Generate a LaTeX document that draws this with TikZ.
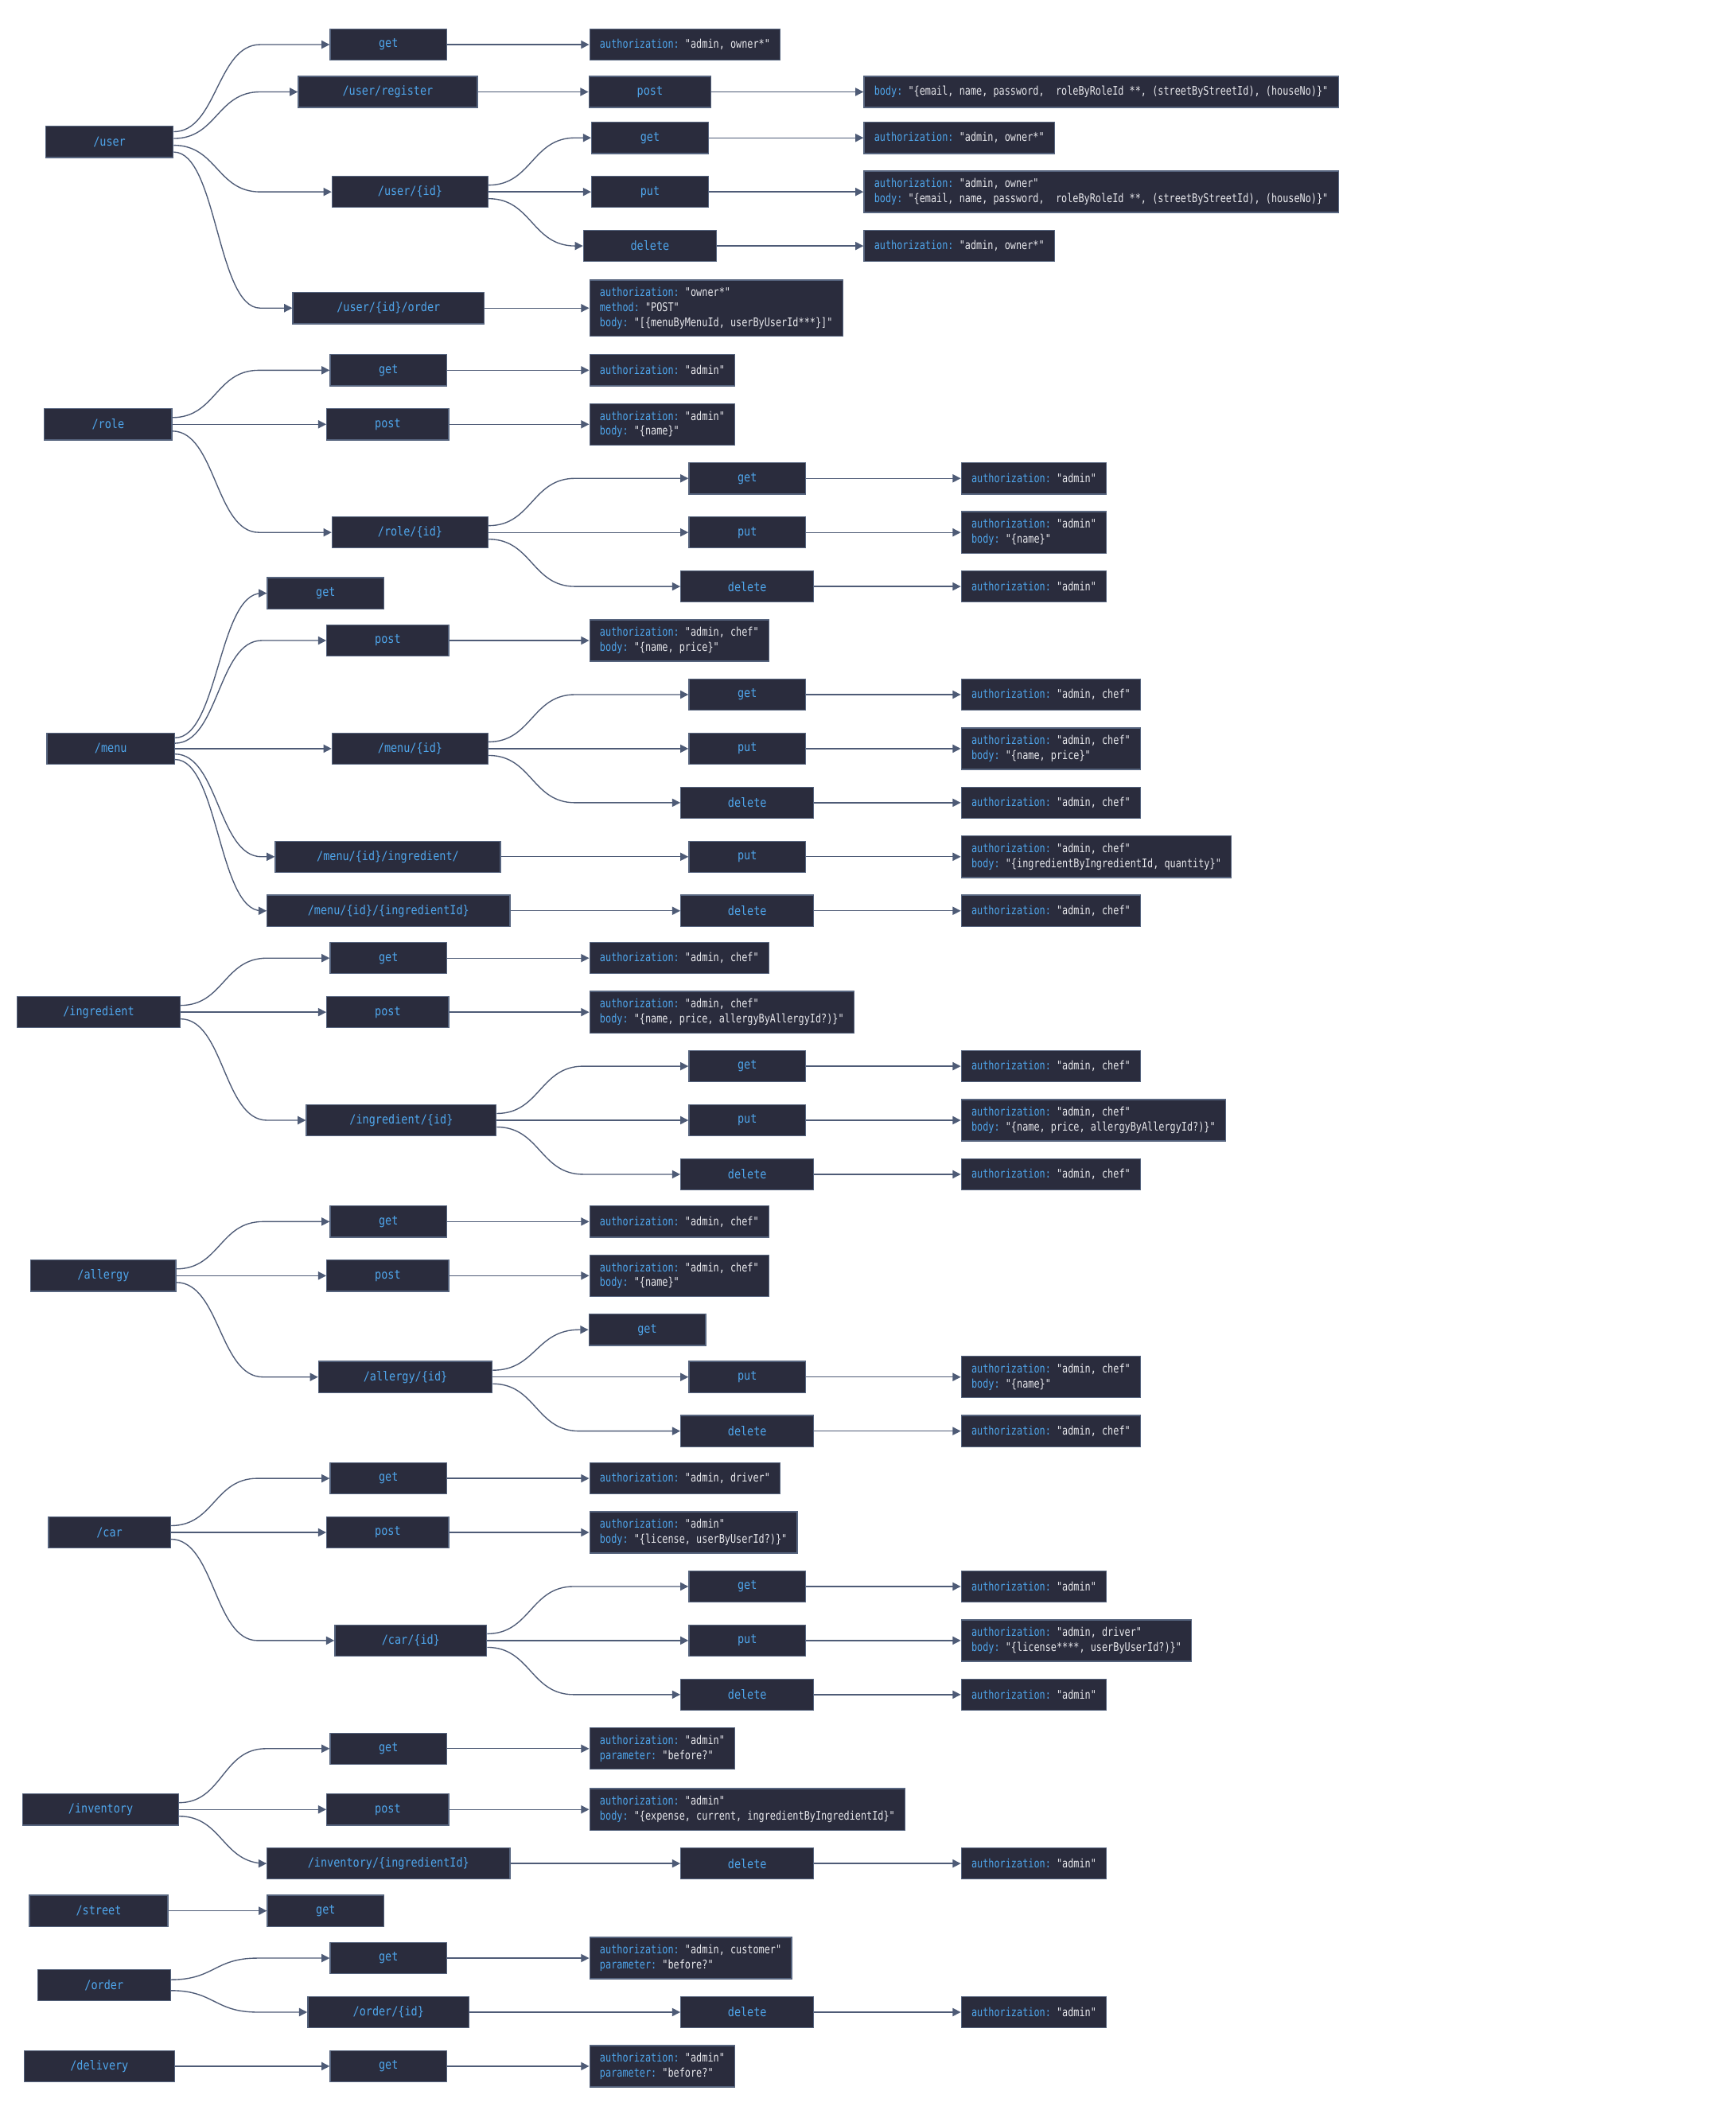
\documentclass[tikz,border=0pt]{standalone}
\usepackage{fontspec}
\newfontfamily\labelfont[FakeStretch=0.86]{DejaVu Sans Mono}
\newfontfamily\infofont[FakeStretch=0.79]{DejaVu Sans Mono}
\usetikzlibrary{arrows.meta,calc}

\definecolor{boxfill}{HTML}{2A2C3D}
\definecolor{boxline}{HTML}{56647E}
\definecolor{keyblue}{HTML}{4FA6EC}
\definecolor{valwhite}{HTML}{E8E8EC}
\definecolor{edgeline}{HTML}{4E5B76}
\newcommand{\fld}[2]{\textcolor{keyblue}{#1:}~#2}

\begin{document}
\begin{tikzpicture}[
    x = 0.9966pt, y = -0.9966pt, % pixel grid, y runs downwards
    > = {Triangle[length=6pt, width=6pt]}, % arrow head style
    box/.style = {draw=boxline, fill=boxfill, text=keyblue, line width=0.8pt,
        minimum height=23, inner sep=0pt, font=\labelfont\fontsize{9.2}{11}\selectfont},
    info/.style = {draw=boxline, fill=boxfill, text=valwhite, line width=0.8pt, anchor=west,
        minimum height=23, inner xsep=7.5pt, inner ysep=5.5pt, align=left,
        font=\infofont\fontsize{8.8}{11}\selectfont},
    edge/.style = {->, draw=edgeline, line width=0.8pt},
    tree/.style = {to path={.. controls ($(\tikztostart)+(#1/2,0)$)
        and ($(\tikztostart |- \tikztotarget)+(#1/2,0)$)
        .. ($(\tikztostart |- \tikztotarget)+(#1,0)$) -- (\tikztotarget) \tikztonodes}},
    tree/.default = 64
]
\useasboundingbox (0pt,0pt) rectangle (1280pt,-1562pt);

% /user
\node[box, minimum width=94] (user) at (81,105) {/user};
\node[box, minimum width=86] (user-get) at (287.5,33) {get};
\node[info] (user-get-a) at (436,33) {\fld{authorization}{"admin, owner*"}};
\node[box, minimum width=132] (user-reg) at (287,68) {/user/register};
\node[box, minimum width=90] (user-reg-post) at (481,68) {post};
\node[info] (user-reg-post-a) at (639,68) {\fld{body}{"\{email, name, password,~ roleByRoleId **, (streetByStreetId), (houseNo)\}"}};
\node[box, minimum width=115] (user-id) at (303.5,142) {/user/\{id\}};
\node[box, minimum width=86] (user-id-get) at (481,102) {get};
\node[info] (user-id-get-a) at (639,102) {\fld{authorization}{"admin, owner*"}};
\node[box, minimum width=86] (user-id-put) at (481,142) {put};
\node[info] (user-id-put-a) at (639,142) {\fld{authorization}{"admin, owner"}\\
    \fld{body}{"\{email, name, password,~ roleByRoleId **, (streetByStreetId), (houseNo)\}"}};
\node[box, minimum width=98] (user-id-del) at (481,182) {delete};
\node[info] (user-id-del-a) at (639,182) {\fld{authorization}{"admin, owner*"}};
\node[box, minimum width=141] (user-ord) at (287.5,228) {/user/\{id\}/order};
\node[info] (user-ord-a) at (436,228) {\fld{authorization}{"owner*"}\\
    \fld{method}{"POST"}\\ \fld{body}{"[\{menuByMenuId, userByUserId***\}]"}};

\draw[edge] ([yshift=7.5]user.east) to[tree] (user-get);
\draw[edge] ([yshift=2.5]user.east) to[tree] (user-reg);
\draw[edge] ([yshift=-2.5]user.east) to[tree] (user-id);
\draw[edge] ([yshift=-7.5]user.east) to[tree] (user-ord);
\draw[edge] (user-get) -- (user-get-a);
\draw[edge] (user-reg) -- (user-reg-post);
\draw[edge] (user-reg-post) -- (user-reg-post-a);
\draw[edge] ([yshift=5]user-id.east) to[tree] (user-id-get);
\draw[edge] (user-id) -- (user-id-put);
\draw[edge] ([yshift=-5]user-id.east) to[tree] (user-id-del);
\draw[edge] (user-id-get) -- (user-id-get-a);
\draw[edge] (user-id-put) -- (user-id-put-a);
\draw[edge] (user-id-del) -- (user-id-del-a);
\draw[edge] (user-ord) -- (user-ord-a);

% /role
\node[box, minimum width=94] (role) at (80,314) {/role};
\node[box, minimum width=86] (role-get) at (287.5,274) {get};
\node[info] (role-get-a) at (436,274) {\fld{authorization}{"admin"}};
\node[box, minimum width=90] (role-post) at (287,314) {post};
\node[info] (role-post-a) at (436,314) {\fld{authorization}{"admin"}\\ \fld{body}{"\{name\}"}};
\node[box, minimum width=115] (role-id) at (303.5,394) {/role/\{id\}};
\node[box, minimum width=86] (role-id-get) at (553,354) {get};
\node[info] (role-id-get-a) at (711,354) {\fld{authorization}{"admin"}};
\node[box, minimum width=86] (role-id-put) at (553,394) {put};
\node[info] (role-id-put-a) at (711,394) {\fld{authorization}{"admin"}\\ \fld{body}{"\{name\}"}};
\node[box, minimum width=98] (role-id-del) at (553,434) {delete};
\node[info] (role-id-del-a) at (711,434) {\fld{authorization}{"admin"}};

\draw[edge] ([yshift=5]role.east) to[tree] (role-get);
\draw[edge] (role) -- (role-post);
\draw[edge] ([yshift=-5]role.east) to[tree] (role-id);
\draw[edge] (role-get) -- (role-get-a);
\draw[edge] (role-post) -- (role-post-a);
\draw[edge] ([yshift=5]role-id.east) to[tree] (role-id-get);
\draw[edge] (role-id) -- (role-id-put);
\draw[edge] ([yshift=-5]role-id.east) to[tree] (role-id-del);
\draw[edge] (role-id-get) -- (role-id-get-a);
\draw[edge] (role-id-put) -- (role-id-put-a);
\draw[edge] (role-id-del) -- (role-id-del-a);

% /menu
\node[box, minimum width=94] (menu) at (82,554) {/menu};
\node[box, minimum width=86] (menu-get) at (241,439) {get};
\node[box, minimum width=90] (menu-post) at (287,474) {post};
\node[info] (menu-post-a) at (436,474) {\fld{authorization}{"admin, chef"}\\ \fld{body}{"\{name, price\}"}};
\node[box, minimum width=115] (menu-id) at (303.5,554) {/menu/\{id\}};
\node[box, minimum width=86] (menu-id-get) at (553,514) {get};
\node[info] (menu-id-get-a) at (711,514) {\fld{authorization}{"admin, chef"}};
\node[box, minimum width=86] (menu-id-put) at (553,554) {put};
\node[info] (menu-id-put-a) at (711,554) {\fld{authorization}{"admin, chef"}\\ \fld{body}{"\{name, price\}"}};
\node[box, minimum width=98] (menu-id-del) at (553,594) {delete};
\node[info] (menu-id-del-a) at (711,594) {\fld{authorization}{"admin, chef"}};
\node[box, minimum width=166] (menu-ingr) at (287,634) {/menu/\{id\}/ingredient/};
\node[box, minimum width=86] (menu-ingr-put) at (553,634) {put};
\node[info] (menu-ingr-put-a) at (711,634) {\fld{authorization}{"admin, chef"}\\
    \fld{body}{"\{ingredientByIngredientId, quantity\}"}};
\node[box, minimum width=179] (menu-ingrid) at (287.5,674) {/menu/\{id\}/\{ingredientId\}};
\node[box, minimum width=98] (menu-ingrid-del) at (553,674) {delete};
\node[info] (menu-ingrid-del-a) at (711,674) {\fld{authorization}{"admin, chef"}};

\draw[edge] ([yshift=8]menu.east) to[tree] (menu-get);
\draw[edge] ([yshift=4]menu.east) to[tree] (menu-post);
\draw[edge] (menu) -- (menu-id);
\draw[edge] ([yshift=-4]menu.east) to[tree] (menu-ingr);
\draw[edge] ([yshift=-8]menu.east) to[tree] (menu-ingrid);
\draw[edge] (menu-post) -- (menu-post-a);
\draw[edge] ([yshift=5]menu-id.east) to[tree] (menu-id-get);
\draw[edge] (menu-id) -- (menu-id-put);
\draw[edge] ([yshift=-5]menu-id.east) to[tree] (menu-id-del);
\draw[edge] (menu-id-get) -- (menu-id-get-a);
\draw[edge] (menu-id-put) -- (menu-id-put-a);
\draw[edge] (menu-id-del) -- (menu-id-del-a);
\draw[edge] (menu-ingr) -- (menu-ingr-put);
\draw[edge] (menu-ingr-put) -- (menu-ingr-put-a);
\draw[edge] (menu-ingrid) -- (menu-ingrid-del);
\draw[edge] (menu-ingrid-del) -- (menu-ingrid-del-a);

% /ingredient
\node[box, minimum width=120] (ingr) at (73,749) {/ingredient};
\node[box, minimum width=86] (ingr-get) at (287.5,709) {get};
\node[info] (ingr-get-a) at (436,709) {\fld{authorization}{"admin, chef"}};
\node[box, minimum width=90] (ingr-post) at (287,749) {post};
\node[info] (ingr-post-a) at (436,749) {\fld{authorization}{"admin, chef"}\\
    \fld{body}{"\{name, price, allergyByAllergyId?)\}"}};
\node[box, minimum width=140] (ingr-id) at (297,829) {/ingredient/\{id\}};
\node[box, minimum width=86] (ingr-id-get) at (553,789) {get};
\node[info] (ingr-id-get-a) at (711,789) {\fld{authorization}{"admin, chef"}};
\node[box, minimum width=86] (ingr-id-put) at (553,829) {put};
\node[info] (ingr-id-put-a) at (711,829) {\fld{authorization}{"admin, chef"}\\
    \fld{body}{"\{name, price, allergyByAllergyId?)\}"}};
\node[box, minimum width=98] (ingr-id-del) at (553,869) {delete};
\node[info] (ingr-id-del-a) at (711,869) {\fld{authorization}{"admin, chef"}};

\draw[edge] ([yshift=5]ingr.east) to[tree] (ingr-get);
\draw[edge] (ingr) -- (ingr-post);
\draw[edge] ([yshift=-5]ingr.east) to[tree] (ingr-id);
\draw[edge] (ingr-get) -- (ingr-get-a);
\draw[edge] (ingr-post) -- (ingr-post-a);
\draw[edge] ([yshift=5]ingr-id.east) to[tree] (ingr-id-get);
\draw[edge] (ingr-id) -- (ingr-id-put);
\draw[edge] ([yshift=-5]ingr-id.east) to[tree] (ingr-id-del);
\draw[edge] (ingr-id-get) -- (ingr-id-get-a);
\draw[edge] (ingr-id-put) -- (ingr-id-put-a);
\draw[edge] (ingr-id-del) -- (ingr-id-del-a);

% /allergy
\node[box, minimum width=107] (allergy) at (76.5,944) {/allergy};
\node[box, minimum width=86] (allergy-get) at (287.5,904) {get};
\node[info] (allergy-get-a) at (436,904) {\fld{authorization}{"admin, chef"}};
\node[box, minimum width=90] (allergy-post) at (287,944) {post};
\node[info] (allergy-post-a) at (436,944) {\fld{authorization}{"admin, chef"}\\ \fld{body}{"\{name\}"}};
\node[box, minimum width=128] (allergy-id) at (300,1019) {/allergy/\{id\}};
\node[box, minimum width=86] (allergy-id-get) at (479,984) {get};
\node[box, minimum width=86] (allergy-id-put) at (553,1019) {put};
\node[info] (allergy-id-put-a) at (711,1019) {\fld{authorization}{"admin, chef"}\\ \fld{body}{"\{name\}"}};
\node[box, minimum width=98] (allergy-id-del) at (553,1059) {delete};
\node[info] (allergy-id-del-a) at (711,1059) {\fld{authorization}{"admin, chef"}};

\draw[edge] ([yshift=5]allergy.east) to[tree] (allergy-get);
\draw[edge] (allergy) -- (allergy-post);
\draw[edge] ([yshift=-5]allergy.east) to[tree] (allergy-id);
\draw[edge] (allergy-get) -- (allergy-get-a);
\draw[edge] (allergy-post) -- (allergy-post-a);
\draw[edge] ([yshift=5]allergy-id.east) to[tree] (allergy-id-get);
\draw[edge] (allergy-id) -- (allergy-id-put);
\draw[edge] ([yshift=-5]allergy-id.east) to[tree] (allergy-id-del);
\draw[edge] (allergy-id-put) -- (allergy-id-put-a);
\draw[edge] (allergy-id-del) -- (allergy-id-del-a);

% /car
\node[box, minimum width=90] (car) at (81,1134) {/car};
\node[box, minimum width=86] (car-get) at (287.5,1094) {get};
\node[info] (car-get-a) at (436,1094) {\fld{authorization}{"admin, driver"}};
\node[box, minimum width=90] (car-post) at (287,1134) {post};
\node[info] (car-post-a) at (436,1134) {\fld{authorization}{"admin"}\\ \fld{body}{"\{license, userByUserId?)\}"}};
\node[box, minimum width=112] (car-id) at (304,1214) {/car/\{id\}};
\node[box, minimum width=86] (car-id-get) at (553,1174) {get};
\node[info] (car-id-get-a) at (711,1174) {\fld{authorization}{"admin"}};
\node[box, minimum width=86] (car-id-put) at (553,1214) {put};
\node[info] (car-id-put-a) at (711,1214) {\fld{authorization}{"admin, driver"}\\
    \fld{body}{"\{license****, userByUserId?)\}"}};
\node[box, minimum width=98] (car-id-del) at (553,1254) {delete};
\node[info] (car-id-del-a) at (711,1254) {\fld{authorization}{"admin"}};

\draw[edge] ([yshift=5]car.east) to[tree] (car-get);
\draw[edge] (car) -- (car-post);
\draw[edge] ([yshift=-5]car.east) to[tree] (car-id);
\draw[edge] (car-get) -- (car-get-a);
\draw[edge] (car-post) -- (car-post-a);
\draw[edge] ([yshift=5]car-id.east) to[tree] (car-id-get);
\draw[edge] (car-id) -- (car-id-put);
\draw[edge] ([yshift=-5]car-id.east) to[tree] (car-id-del);
\draw[edge] (car-id-get) -- (car-id-get-a);
\draw[edge] (car-id-put) -- (car-id-put-a);
\draw[edge] (car-id-del) -- (car-id-del-a);

% /inventory
\node[box, minimum width=115] (inv) at (74.5,1339) {/inventory};
\node[box, minimum width=86] (inv-get) at (287.5,1294) {get};
\node[info] (inv-get-a) at (436,1294) {\fld{authorization}{"admin"}\\ \fld{parameter}{"before?"}};
\node[box, minimum width=90] (inv-post) at (287,1339) {post};
\node[info] (inv-post-a) at (436,1339) {\fld{authorization}{"admin"}\\
    \fld{body}{"\{expense, current, ingredientByIngredientId\}"}};
\node[box, minimum width=179] (inv-id) at (287.5,1379) {/inventory/\{ingredientId\}};
\node[box, minimum width=98] (inv-id-del) at (553,1379) {delete};
\node[info] (inv-id-del-a) at (711,1379) {\fld{authorization}{"admin"}};

\draw[edge] ([yshift=5]inv.east) to[tree] (inv-get);
\draw[edge] (inv) -- (inv-post);
\draw[edge] ([yshift=-5]inv.east) to[tree] (inv-id);
\draw[edge] (inv-get) -- (inv-get-a);
\draw[edge] (inv-post) -- (inv-post-a);
\draw[edge] (inv-id) -- (inv-id-del);
\draw[edge] (inv-id-del) -- (inv-id-del-a);

% /street
\node[box, minimum width=102] (street) at (73,1414) {/street};
\node[box, minimum width=86] (street-get) at (241,1414) {get};
\draw[edge] (street) -- (street-get);

% /order
\node[box, minimum width=98] (order) at (77,1469) {/order};
\node[box, minimum width=86] (order-get) at (287.5,1449) {get};
\node[info] (order-get-a) at (436,1449) {\fld{authorization}{"admin, customer"}\\ \fld{parameter}{"before?"}};
\node[box, minimum width=119] (order-id) at (287.5,1489) {/order/\{id\}};
\node[box, minimum width=98] (order-id-del) at (553,1489) {delete};
\node[info] (order-id-del-a) at (711,1489) {\fld{authorization}{"admin"}};

\draw[edge] ([yshift=4]order.east) to[tree] (order-get);
\draw[edge] ([yshift=-4]order.east) to[tree] (order-id);
\draw[edge] (order-get) -- (order-get-a);
\draw[edge] (order-id) -- (order-id-del);
\draw[edge] (order-id-del) -- (order-id-del-a);

% /delivery
\node[box, minimum width=111] (delivery) at (73.5,1529) {/delivery};
\node[box, minimum width=86] (delivery-get) at (287.5,1529) {get};
\node[info] (delivery-get-a) at (436,1529) {\fld{authorization}{"admin"}\\ \fld{parameter}{"before?"}};
\draw[edge] (delivery) -- (delivery-get);
\draw[edge] (delivery-get) -- (delivery-get-a);

\end{tikzpicture}
\end{document}
